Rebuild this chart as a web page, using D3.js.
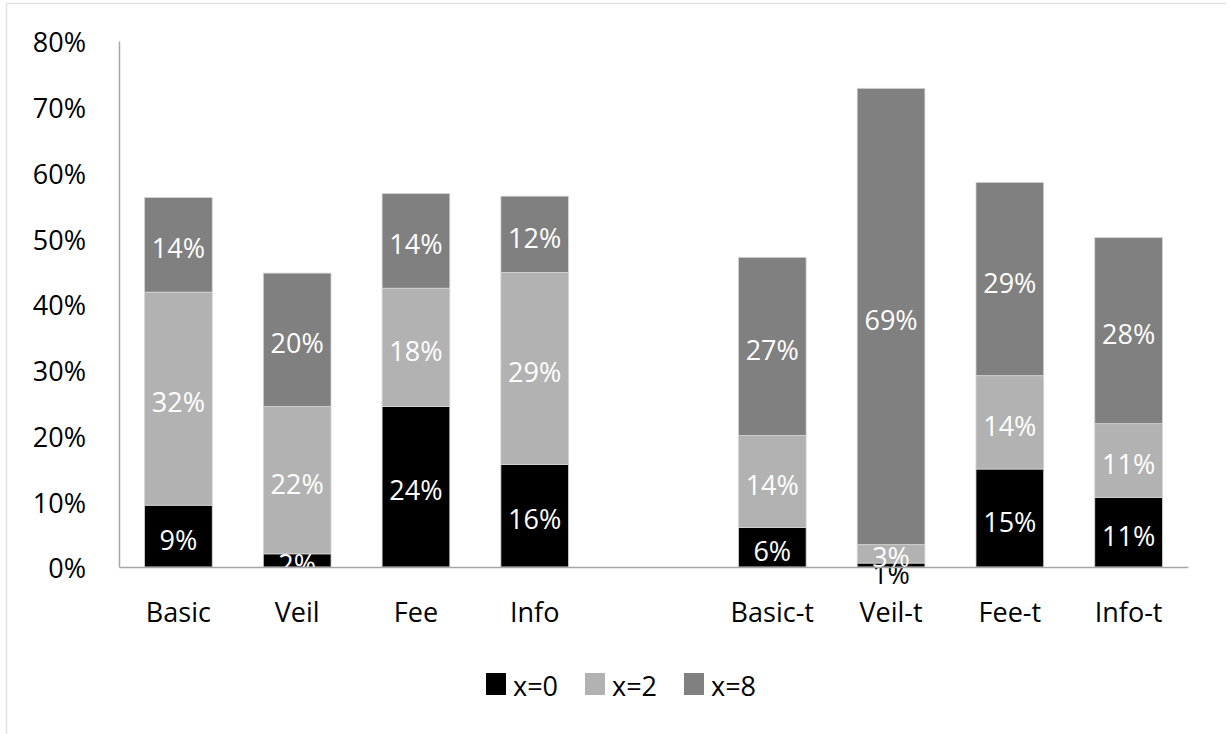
<!doctype html>
<html lang="en">
  <head>
    <meta charset="UTF-8" />
    <title>Stacked shares</title>
    <script src="https://d3js.org/d3.v7.min.js"></script>
    <style>
      html, body { margin: 0; padding: 0; background: #fff; }
      svg { display: block; font-family: "Open Sans", sans-serif; }
    </style>
  </head>
  <body>
    <svg id="chart" width="1230" height="734"></svg>
    <script>
      // categories ("" is the empty slot between the two groups)
      const categories = ["Basic", "Veil", "Fee", "Info", "", "Basic-t", "Veil-t", "Fee-t", "Info-t"];
      const seriesNames = ["x=0", "x=2", "x=8"];
      // shares in %
      const x0 = [9.4, 2.0, 24.4, 15.6, null, 6.0, 0.6, 14.9, 10.6];
      const x2 = [32.4, 22.4, 18.0, 29.2, null, 14.0, 2.8, 14.2, 11.2];
      const x8 = [14.4, 20.3, 14.4, 11.6, null, 27.1, 69.4, 29.4, 28.3];
      const yTicks = [0, 0.1, 0.2, 0.3, 0.4, 0.5, 0.6, 0.7, 0.8];
      const colors = ["#000000", "#b2b2b2", "#808080"];

      const rows = categories.map((c, i) => ({
        cat: c, "x=0": (x0[i] || 0) / 100, "x=2": (x2[i] || 0) / 100, "x=8": (x8[i] || 0) / 100, empty: x0[i] == null
      }));

      const svg = d3.select("#chart");

      // light chart frame (top and left edge)
      svg.append("path")
        .attr("d", "M6.5,734 V3.5 H1226")
        .attr("fill", "none")
        .attr("stroke", "#e3e3e3")
        .attr("stroke-width", 1.5);

      const x = d3.scaleBand()
        .domain(categories)
        .range([119, 1188])
        .paddingInner(0.43)
        .paddingOuter(0.215);

      const y = d3.scaleLinear().domain([0, 0.8]).range([567, 41]);

      const fmt = d3.format(".0%");
      const stack = d3.stack().keys(seriesNames);
      const layers = stack(rows);

      const g = svg.append("g");
      layers.forEach((layer, k) => {
        g.append("g")
          .selectAll("rect")
          .data(layer.filter(d => !d.data.empty))
          .join("rect")
          .attr("x", d => x(d.data.cat))
          .attr("width", x.bandwidth())
          .attr("y", d => y(d[1]))
          .attr("height", d => y(d[0]) - y(d[1]))
          .attr("fill", colors[k])
          .attr("stroke", "#d6d6d6")
          .attr("stroke-width", 0.8);
      });

      // axes
      const yAxis = svg.append("g")
        .attr("transform", "translate(119,0)")
        .call(d3.axisLeft(y).tickValues(yTicks).tickFormat(fmt).tickSize(0).tickPadding(33));
      yAxis.select(".domain").attr("stroke", "#a6a6a6").attr("stroke-width", 1.5);
      yAxis.selectAll("text")
        .attr("font-size", 27)
        .attr("font-family", "Open Sans, sans-serif")
        .attr("fill", "#000")
        .attr("dy", "0.4em");

      const xAxis = svg.append("g")
        .attr("transform", "translate(0,567)")
        .call(d3.axisBottom(x).tickSize(0).tickPadding(36).tickSizeOuter(0));
      xAxis.select(".domain").attr("stroke", "#a6a6a6").attr("stroke-width", 1.5);
      xAxis.selectAll("text")
        .attr("font-size", 27)
        .attr("font-family", "Open Sans, sans-serif")
        .attr("fill", "#000");

      // data labels
      layers.forEach((layer, k) => {
        g.append("g")
          .selectAll("text")
          .data(layer.filter(d => !d.data.empty))
          .join("text")
          .attr("x", d => x(d.data.cat) + x.bandwidth() / 2)
          .attr("y", d => (y(d[0]) + y(d[1])) / 2 + (d[1] - d[0] < 0.01 ? 8 : 3))
          .attr("text-anchor", "middle")
          .attr("dominant-baseline", "central")
          .attr("font-size", 27)
          .attr("fill", d => (d[1] - d[0] < 0.01 ? "#000" : "#fff"))
          .text(d => fmt(d[1] - d[0]));
      });

      // legend
      const legend = svg.append("g").attr("transform", "translate(486,673)");
      const item = legend.selectAll("g")
        .data(seriesNames)
        .join("g")
        .attr("transform", (d, i) => `translate(${i * 99},0)`);
      item.append("rect")
        .attr("width", 20)
        .attr("height", 22)
        .attr("fill", (d, i) => colors[i]);
      item.append("text")
        .attr("x", 27)
        .attr("y", 12)
        .attr("dominant-baseline", "central")
        .attr("font-size", 27)
        .text(d => d);
    </script>
  </body>
</html>
